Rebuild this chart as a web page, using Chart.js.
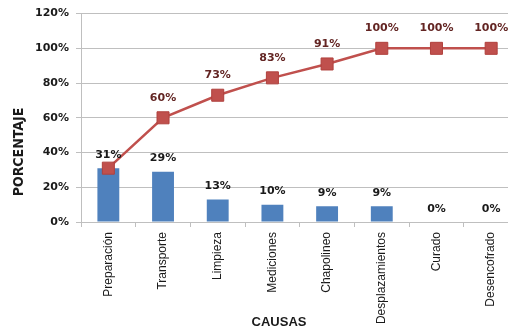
<!DOCTYPE html>
<html>
<head>
<meta charset="utf-8">
<script src="https://cdn.jsdelivr.net/npm/chart.js@4/dist/chart.umd.min.js"></script>
<style>
  html, body { margin: 0; padding: 0; background: #fff; overflow: hidden; }
  #wrap { width: 528px; height: 329px; }
</style>
</head>
<body>
<div id="wrap"><canvas id="pareto"></canvas></div>
<script>
// Pareto de causas: barras = % de cada causa, línea = % acumulado
const causas = ["Preparación", "Transporte", "Limpieza", "Mediciones", "Chapolineo",
                "Desplazamientos", "Curado", "Desencofrado"];
const porcentaje = [31, 29, 13, 10, 9, 9, 0, 0];
const acumulado = [31, 60, 73, 83, 91, 100, 100, 100];
const yTicks = [0, 20, 40, 60, 80, 100, 120];

const BAR = "#4F81BD", LINE = "#C0504D", GRID = "#BFBFBF";
const TICK_FONT = { family: "DejaVu Sans", size: 11, weight: "bold" };

// Etiquetas de datos (no hay plugin datalabels, se dibujan a mano)
const valueLabels = {
  id: "valueLabels",
  afterDatasetsDraw(chart) {
    const ctx = chart.ctx;
    ctx.save();
    ctx.font = "bold 11px 'DejaVu Sans'";
    ctx.textAlign = "center";
    ctx.textBaseline = "middle";
    // barras
    chart.getDatasetMeta(1).data.forEach((bar, i) => {
      ctx.fillStyle = "#1a1a1a";
      ctx.fillText(porcentaje[i] + "%", bar.x, bar.y - 13);
    });
    // línea (el primero coincide con la barra, no se repite)
    chart.getDatasetMeta(0).data.forEach((pt, i) => {
      if (i === 0) return;
      ctx.fillStyle = "#632523";
      ctx.fillText(acumulado[i] + "%", pt.x, pt.y - 20);
    });
    ctx.restore();
  }
};

// Títulos de ejes en la posición del original
const axisTitles = {
  id: "axisTitles",
  afterDraw(chart) {
    const ctx = chart.ctx;
    ctx.save();
    ctx.fillStyle = "#1a1a1a";
    ctx.textAlign = "center";
    ctx.textBaseline = "middle";
    ctx.font = "bold 14px 'Liberation Sans Narrow', 'DejaVu Sans Condensed'";
    ctx.translate(19, 152);
    ctx.rotate(-Math.PI / 2);
    ctx.fillText("PORCENTAJE", 0, 0);
    ctx.restore();
    ctx.save();
    ctx.fillStyle = "#1a1a1a";
    ctx.textAlign = "center";
    ctx.textBaseline = "middle";
    ctx.font = "bold 13px 'Liberation Sans'";
    ctx.fillText("CAUSAS", 279, 322);
    ctx.restore();
  }
};

new Chart(document.getElementById("pareto"), {
  data: {
    labels: causas,
    datasets: [
      {
        type: "line", data: acumulado, order: 0,
        borderColor: LINE, borderWidth: 2.5, tension: 0,
        pointStyle: "rect", pointRadius: 8.5, pointHoverRadius: 8.5,
        pointBackgroundColor: LINE, pointBorderColor: "#B0403D", pointBorderWidth: 1,
      },
      {
        type: "bar", data: porcentaje, order: 1,
        backgroundColor: BAR, barPercentage: 0.4, categoryPercentage: 1,
      },
    ]
  },
  options: {
    responsive: true, maintainAspectRatio: false, animation: false,
    layout: { padding: { top: 8, right: 2, left: 0, bottom: 0 } },
    plugins: { legend: { display: false }, tooltip: { enabled: false } },
    scales: {
      x: {
        offset: true,
        grid: { offset: true, drawOnChartArea: false, drawTicks: true, tickLength: 5, color: GRID },
        border: { color: GRID },
        ticks: { color: "#1a1a1a", font: { family: "Liberation Sans", size: 12 },
                 minRotation: 90, maxRotation: 90, autoSkip: false, padding: 5 },
        afterFit: s => { s.height = 107; }
      },
      y: {
        min: 0, max: 120,
        afterBuildTicks: s => { s.ticks = yTicks.map(v => ({ value: v })); },
        grid: { color: GRID, tickLength: 5 },
        border: { color: GRID },
        ticks: { color: "#1a1a1a", font: TICK_FONT, padding: 7, callback: v => v + "%" },
        afterFit: s => { s.width = 81; }
      }
    }
  },
  plugins: [valueLabels, axisTitles]
});
</script>
</body>
</html>
